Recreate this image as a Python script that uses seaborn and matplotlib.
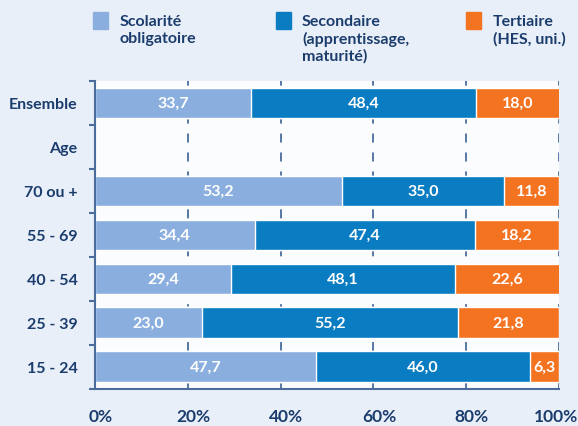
import matplotlib
matplotlib.use("Agg")
import matplotlib.pyplot as plt
import matplotlib.patches as mpatches
import matplotlib.transforms as mtransforms
import numpy as np
import pandas as pd
import seaborn as sns

CATEGORIES = ["Ensemble", "Age", "70 ou +", "55 - 69", "40 - 54", "25 - 39", "15 - 24"]
SCOLARITE = [33.7, np.nan, 53.2, 34.4, 29.4, 23.0, 47.7]
SECONDAIRE = [48.4, np.nan, 35.0, 47.4, 48.1, 55.2, 46.0]
TERTIAIRE = [18.0, np.nan, 11.8, 18.2, 22.6, 21.8, 6.3]
SERIES = ["Scolarité\nobligatoire", "Secondaire\n(apprentissage,\nmaturité)", "Tertiaire\n(HES, uni.)"]
COLORS = ["#8aafdf", "#097cc2", "#f47321"]
TICKS = [0, 20, 40, 60, 80, 100]

NAVY = "#1b3d6d"
AXIS_BLUE = "#4a6d9c"
BG = "#e9eff8"

sns.set_theme(style="white")
plt.rcParams["font.family"] = ["Lato", "DejaVu Sans"]

df = pd.DataFrame({
    "cat": CATEGORIES,
    "s1": SCOLARITE,
    "s2": SECONDAIRE,
    "s3": TERTIAIRE,
})
df["c1"] = df["s1"]
df["c2"] = df["s1"] + df["s2"]
df["c3"] = df["c2"] + df["s3"]

fig = plt.figure(figsize=(5.78, 4.27), dpi=100, facecolor=BG)
ax = fig.add_axes([0.1644, 0.087, 0.8028, 0.721])
ax.set_facecolor("#fbfcfe")

# grid behind bars
for t in TICKS[1:]:
    ax.axvline(t, color=AXIS_BLUE, lw=1.3, ls=(0, (5, 5.5)), zorder=0)

# stacked bars: draw totals first, then overlay shorter cumulative sums
for col, color in zip(["c3", "c2", "c1"], COLORS[::-1]):
    sns.barplot(data=df, x=col, y="cat", order=CATEGORIES, color=color,
                orient="h", width=0.7, saturation=1, ax=ax, zorder=2)

for i, row in df.iterrows():
    if np.isnan(row["s1"]):
        continue
    starts = [0, row["c1"], row["c2"]]
    for start, val in zip(starts, [row["s1"], row["s2"], row["s3"]]):
        ax.text(start + val / 2, i, f"{val:.1f}".replace(".", ","),
                ha="center", va="center", color="white",
                fontsize=11.5, fontweight="bold", zorder=3)

ax.set_xlim(0, 100)
ax.set_ylim(len(CATEGORIES) - 0.5, -0.5)
ax.set_xlabel("")
ax.set_ylabel("")
ax.set_xticks(TICKS)
ax.set_xticklabels([f"{t}%" for t in TICKS])
ax.set_yticks(range(len(CATEGORIES)))
ax.set_yticklabels(CATEGORIES)
ax.set_yticks(np.arange(-0.5, len(CATEGORIES)), minor=True)

for side in ["top", "right"]:
    ax.spines[side].set_visible(False)
for side in ["left", "bottom"]:
    ax.spines[side].set_color(AXIS_BLUE)
    ax.spines[side].set_linewidth(1.5)

ax.tick_params(axis="x", which="major", direction="inout", length=8, width=1.5,
               color=AXIS_BLUE, labelsize=12.5, labelcolor=NAVY, pad=10)
ax.tick_params(axis="y", which="major", length=0, labelsize=11.5,
               labelcolor=NAVY, pad=12.5)
ax.tick_params(axis="y", which="minor", direction="out", length=4, width=1.5,
               color=AXIS_BLUE, left=True)
shift = mtransforms.ScaledTranslation(4 / 72, 0, fig.dpi_scale_trans)
xlabels = ax.get_xticklabels()
for lbl in xlabels:
    lbl.set_fontweight("bold")
for lbl in xlabels[:-1]:
    lbl.set_transform(lbl.get_transform() + shift)
xlabels[-1].set_horizontalalignment("right")
xlabels[-1].set_transform(xlabels[-1].get_transform()
                          + mtransforms.ScaledTranslation(19 / 100, 0, fig.dpi_scale_trans))
for lbl in ax.get_yticklabels():
    lbl.set_fontweight("bold")

# legend at top
legend_box_x = [0.161, 0.4775, 0.806]
legend_text_x = [0.2076, 0.5225, 0.853]
for bx, tx, color, label in zip(legend_box_x, legend_text_x, COLORS, SERIES):
    fig.patches.append(mpatches.Rectangle((bx, 0.9297), 0.026, 0.0398, color=color,
                                          transform=fig.transFigure, figure=fig))
    fig.text(tx, 0.964, label, ha="left", va="top", color=NAVY,
             fontsize=11.5, fontweight="bold", linespacing=1.2)

fig.savefig("out.png", dpi=100, facecolor=BG)
